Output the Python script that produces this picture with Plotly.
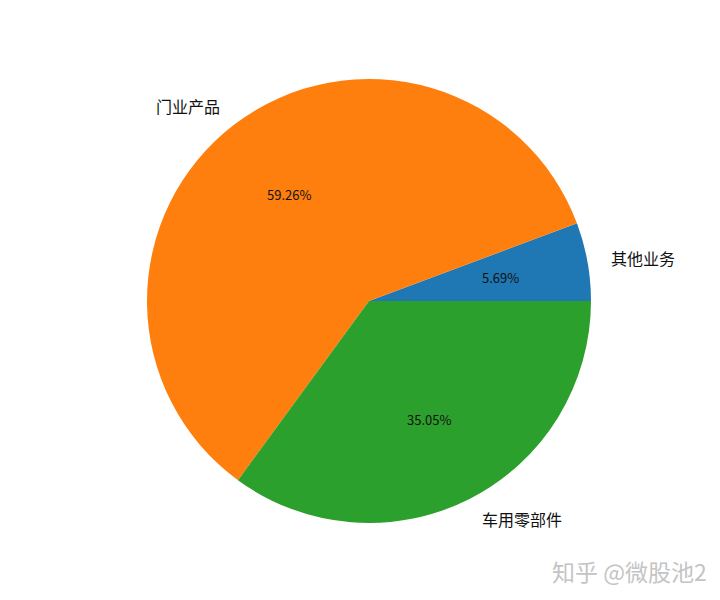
import math
import plotly.graph_objects as go

labels = ["其他业务", "门业产品", "车用零部件"]
values = [5.69, 59.26, 35.05]
colors = ["#1f77b4", "#ff7f0e", "#2ca02c"]

W, H = 720, 600
off = 8  # page body margin offsets the whole figure
cx, cy, r = 369 - off, 301 - off, 222  # pixel center / radius of pie within figure

dom_x = [(cx - r) / W, (cx + r) / W]
dom_y = [(H - cy - r) / H, (H - cy + r) / H]

total = sum(values)
rot = 90 - 360 * values[0] / total

fig = go.Figure(go.Pie(
    labels=labels, values=values, sort=False,
    direction="counterclockwise", rotation=rot,
    marker=dict(colors=colors, line=dict(width=0)),
    textinfo="none", hoverinfo="label+percent",
    domain=dict(x=dom_x, y=dom_y), showlegend=False,
))

font = "Noto Sans CJK SC"
start = 0.0
annotations = []
for lab, v in zip(labels, values):
    frac = v / total
    mid = math.radians((start + frac / 2) * 360)
    start += frac
    c, s = math.cos(mid), math.sin(mid)
    px, py = cx + 0.6 * r * c, cy - 0.6 * r * s
    annotations.append(dict(x=px / W, y=1 - py / H, xref="paper", yref="paper",
                            text=f"{v:.2f}%", showarrow=False,
                            font=dict(family=font, size=13, color="#111"),
                            xanchor="center", yanchor="middle"))
    lx, ly = cx + 1.1 * r * c, cy - 1.1 * r * s
    annotations.append(dict(x=lx / W, y=1 - ly / H, xref="paper", yref="paper",
                            text=lab, showarrow=False,
                            font=dict(family=font, size=16, color="#111"),
                            xanchor="left" if c > 0 else "right", yanchor="middle"))

annotations.append(dict(x=(709 - off) / W, y=1 - (571 - off) / H, xref="paper", yref="paper",
                        text="知乎 @微股池2", showarrow=False,
                        font=dict(family=font, size=23, color="#c4c4c4"),
                        xanchor="right", yanchor="middle"))

fig.update_layout(width=W, height=H, margin=dict(l=0, r=0, t=0, b=0),
                  paper_bgcolor="white", plot_bgcolor="white",
                  annotations=annotations)
fig.write_html("out.html")
